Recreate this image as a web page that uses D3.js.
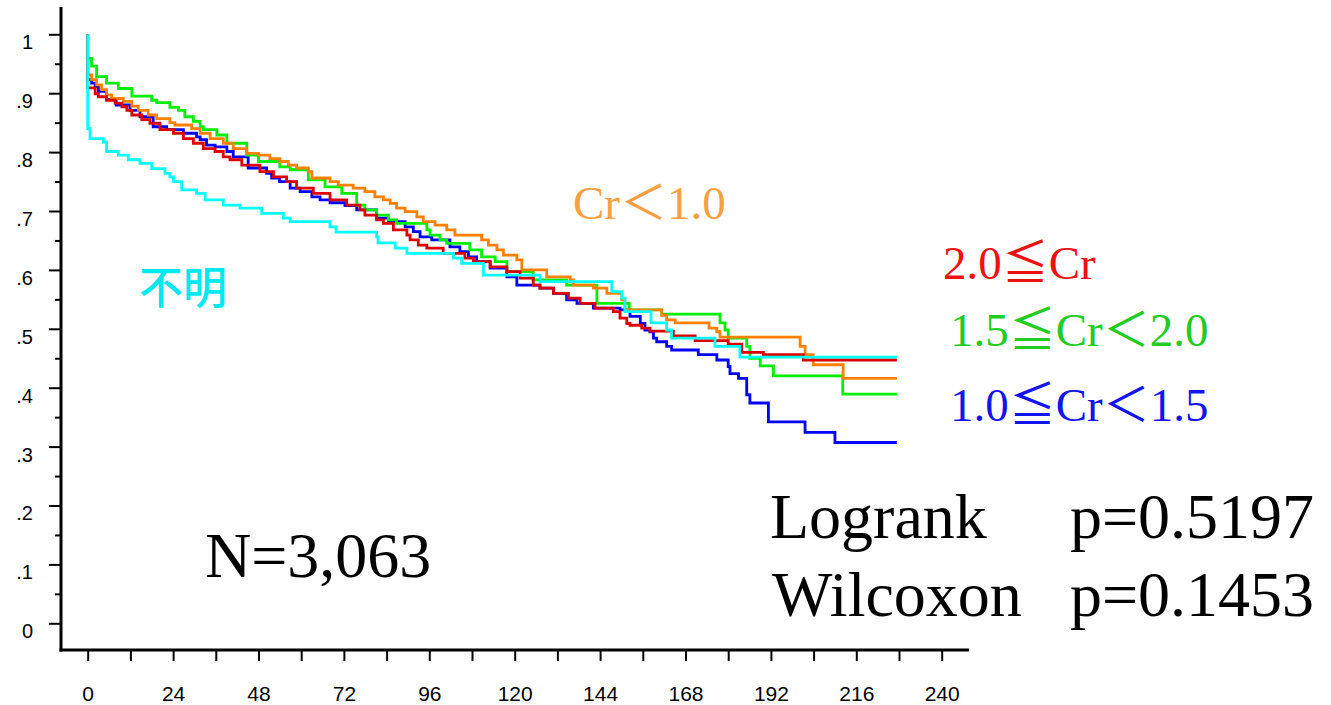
<!DOCTYPE html>
<html>
<head>
  <meta charset="utf-8">
  <script src="https://cdn.jsdelivr.net/npm/d3@7"></script>
  <style>
body { margin: 0; background: #fff; }
.axis path { display: none; }
.axis line { stroke: #000; stroke-width: 2px; }
.axis text { font-family: "Liberation Sans", Arial, sans-serif; fill: #000; }
.curve { fill: none; stroke-width: 2.8px; }
.serif { font-family: "Liberation Serif", "Noto Sans CJK JP", serif; }
  </style>
</head>
<body>
<svg width="1331" height="705"></svg>
<script>

// survival steps: [month, survival after the drop]
const endMonth = 227.4;

const crUnder10 = [[0,1],[0,0.931],[1.1,0.923],[2.5,0.914],[3.9,0.906],[5.3,0.897],[6.7,0.891],[10,0.886],[12.4,0.878],[14.2,0.871],[17,0.863],[19.4,0.857],[23.1,0.85],[24.5,0.846],[29.2,0.84],[31.6,0.832],[34.4,0.823],[38.1,0.815],[40.9,0.806],[44.7,0.798],[48,0.795],[51.2,0.789],[54,0.784],[56.4,0.778],[58.7,0.773],[62,0.767],[63,0.756],[68.1,0.75],[70.4,0.744],[74.6,0.739],[77.9,0.733],[80.7,0.724],[83.1,0.719],[85,0.713],[86.8,0.705],[89.2,0.699],[92.5,0.69],[94.3,0.682],[97.6,0.676],[100.9,0.668],[103.2,0.659],[110.7,0.651],[112.6,0.642],[115,0.634],[116.8,0.625],[120.6,0.617],[122,0.6],[129,0.588],[135.6,0.583],[136.5,0.574],[142.1,0.569],[145.9,0.56],[150.1,0.549],[151,0.532],[161.3,0.523],[162.7,0.515],[165.1,0.51],[174.6,0.501],[176.8,0.495],[177.7,0.486],[200.2,0.47],[201.6,0.456],[203.9,0.439],[212.3,0.416]];

const cr10to15 = [[0,1],[0,0.923],[1.1,0.917],[2.1,0.911],[3,0.903],[5.3,0.889],[8,0.88],[11.9,0.871],[14.7,0.86],[18.4,0.843],[22.2,0.838],[26.9,0.832],[30.6,0.826],[31.6,0.821],[33.4,0.812],[35.8,0.809],[39.1,0.801],[40.9,0.792],[45.1,0.773],[50.3,0.764],[51.7,0.756],[53.9,0.75],[56.9,0.739],[59.7,0.733],[63,0.724],[65.3,0.719],[68.1,0.714],[72.3,0.709],[75.6,0.702],[81.2,0.688],[84.5,0.682],[89.2,0.673],[91.5,0.665],[93.4,0.656],[96.7,0.651],[101.8,0.639],[104.6,0.631],[107,0.622],[109.3,0.614],[113.1,0.603],[117.8,0.588],[120.6,0.574],[127.1,0.569],[130.9,0.56],[134.6,0.549],[137.5,0.543],[142.1,0.535],[149.6,0.532],[152.4,0.521],[155.3,0.509],[156.6,0.498],[158,0.495],[159,0.484],[159.9,0.478],[162.7,0.47],[164.1,0.464],[171.6,0.456],[176.8,0.447],[180,0.436],[180.5,0.424],[182.9,0.416],[185.2,0.388],[186.1,0.374],[191.3,0.342],[201.6,0.324],[210,0.307]];

const cr15to20 = [[0,1],[0,0.959],[1.1,0.946],[2.5,0.928],[5.3,0.917],[8.6,0.908],[12.4,0.895],[18,0.888],[19.4,0.884],[23.1,0.876],[25.5,0.871],[27.3,0.86],[29.7,0.852],[31.6,0.843],[32.5,0.838],[36.3,0.829],[39.1,0.815],[44.7,0.795],[48,0.784],[54,0.775],[56.9,0.77],[62,0.753],[66.7,0.741],[71.4,0.73],[75.6,0.71],[77.9,0.702],[81.2,0.693],[84.5,0.685],[86.8,0.679],[95.3,0.668],[96.2,0.659],[99,0.651],[100.9,0.645],[107.4,0.634],[110.7,0.622],[114.5,0.614],[117.8,0.597],[125.2,0.583],[134.6,0.574],[143.1,0.543],[152.2,0.532],[161.3,0.525],[177.7,0.51],[179.1,0.498],[180,0.484],[185.2,0.47],[186.1,0.45],[189,0.437],[192.7,0.42],[212.2,0.389]];

const cr20over = [[0,1],[0,0.909],[2.1,0.899],[3,0.894],[5.3,0.888],[7.7,0.883],[9.6,0.877],[11,0.871],[12.4,0.863],[15.2,0.855],[17.5,0.849],[20.3,0.838],[24.1,0.832],[26.9,0.823],[29.7,0.815],[32.5,0.806],[35.8,0.801],[38.1,0.792],[40,0.787],[43.3,0.778],[48.4,0.767],[52.2,0.758],[55.9,0.75],[58.7,0.739],[63.4,0.73],[68.1,0.719],[72.8,0.71],[76.5,0.702],[77.9,0.693],[81.2,0.685],[83.1,0.679],[85.9,0.668],[89.7,0.659],[90.6,0.651],[92.9,0.642],[95.3,0.637],[99.9,0.628],[106,0.62],[108.4,0.614],[113.1,0.605],[117.8,0.597],[121.5,0.586],[125.2,0.574],[127.1,0.569],[130.9,0.56],[135.1,0.552],[138.4,0.543],[142.6,0.535],[147.7,0.529],[149.6,0.518],[151.5,0.509],[152.4,0.506],[155.7,0.501],[158,0.496],[164.6,0.488],[170.7,0.48],[180,0.474],[183.8,0.46],[189.9,0.456],[201.1,0.447]];

const unknown = [[0,1],[0,0.84],[0.65,0.823],[4.4,0.817],[5.3,0.801],[8.6,0.795],[11.4,0.787],[14.7,0.781],[18,0.772],[21.7,0.764],[23.1,0.758],[24.1,0.75],[26.4,0.736],[30.6,0.73],[33,0.719],[38.1,0.71],[42.8,0.705],[48.9,0.696],[55,0.688],[56.9,0.682],[68.1,0.673],[69.8,0.664],[81.2,0.656],[81.6,0.646],[86.4,0.637],[89.7,0.628],[102.8,0.62],[105.1,0.611],[111.2,0.591],[127.1,0.58],[147.3,0.563],[150.1,0.552],[151,0.529],[158.3,0.51],[162.7,0.498],[164.1,0.484],[176.3,0.47],[183.3,0.452]];

const yTicks = [0, 0.1, 0.2, 0.3, 0.4, 0.5, 0.6, 0.7, 0.8, 0.9, 1];
const xTicks = [0, 24, 48, 72, 96, 120, 144, 168, 192, 216, 240];

const groups = [
  {name: "1.0≦Cr＜1.5", data: cr10to15, line: "#0000ff", text: "#1414f0", tx: 950, ty: 421},
  {name: "1.5≦Cr＜2.0", data: cr15to20, line: "#00ee00", text: "#22cc22", tx: 950, ty: 346},
  {name: "Cr＜1.0", data: crUnder10, line: "#ff8000", text: "#f7a042", tx: 573, ty: 219},
  {name: "2.0≦Cr", data: cr20over, line: "#dd0000", text: "#ee1111", tx: 943, ty: 279},
  {name: "不明", data: unknown, line: "#00ffff", text: "#00e8f0", tx: 139, ty: 304}
];

var svg = d3.select("svg");

var x = d3.scaleLinear().domain([0, 240]).range([87.7, 941.7]),
    y = d3.scaleLinear().domain([0, 1]).range([623.3, 34.3]);

// y axis
svg.append("g")
   .attr("class", "axis")
   .attr("transform", "translate(61,0)")
   .call(d3.axisLeft(y).tickValues(yTicks).tickSize(12).tickPadding(16)
           .tickFormat(d => d === 0 ? "0" : d === 1 ? "1" : d3.format(".1f")(d).replace("0.", ".")))
   .selectAll("text")
   .attr("dy", "0.72em")
   .style("font-size", "20px");

svg.append("g")
   .attr("class", "axis")
   .attr("transform", "translate(61,0)")
   .call(d3.axisLeft(y).tickValues(yTicks.slice(1).map(d => d - 0.05)).tickSize(6).tickFormat(""));

// x axis
svg.append("g")
   .attr("class", "axis")
   .attr("transform", "translate(0,650)")
   .call(d3.axisBottom(x).tickValues(xTicks).tickSize(11).tickPadding(25).tickFormat(d3.format("d")))
   .selectAll("text")
   .style("font-size", "21px");

svg.append("g")
   .attr("class", "axis")
   .attr("transform", "translate(0,650)")
   .call(d3.axisBottom(x).tickValues(xTicks.slice(1).map(d => d - 12)).tickSize(11).tickFormat(""));

svg.append("line")
   .attr("x1", 61).attr("x2", 61).attr("y1", 7).attr("y2", 651.5)
   .attr("stroke", "#000").attr("stroke-width", 3);
svg.append("line")
   .attr("x1", 59.5).attr("x2", 969).attr("y1", 650).attr("y2", 650)
   .attr("stroke", "#000").attr("stroke-width", 3);

// curves
var line = d3.line()
             .x(d => x(d[0]))
             .y(d => y(d[1]))
             .curve(d3.curveStepAfter);

svg.append("g")
   .selectAll("path")
   .data(groups)
   .enter().append("path")
   .attr("class", "curve")
   .attr("stroke", d => d.line)
   .attr("d", d => line(d.data.concat([[endMonth, d.data[d.data.length - 1][1]]])));

// labels
svg.append("g")
   .selectAll("text")
   .data(groups)
   .enter().append("text")
   .attr("class", d => d.name === "不明" ? null : "serif")
   .attr("x", d => d.tx)
   .attr("y", d => d.ty)
   .attr("fill", d => d.text)
   .style("font-family", d => d.name === "不明" ? "'Noto Sans CJK JP', sans-serif" : null)
   .style("font-weight", d => d.name === "不明" ? 500 : null)
   .style("font-size", d => d.name === "不明" ? "44px" : "47px")
   .text(d => d.name);

var stats = svg.append("g").attr("class", "serif").style("font-size", "64px").attr("fill", "#000");
stats.append("text").attr("x", 205).attr("y", 577).text("N=3,063");
stats.append("text").attr("x", 770).attr("y", 538).text("Logrank");
stats.append("text").attr("x", 1070).attr("y", 538).text("p=0.5197");
stats.append("text").attr("x", 772).attr("y", 616).text("Wilcoxon");
stats.append("text").attr("x", 1070).attr("y", 616).text("p=0.1453");

</script>
</body>
</html>
